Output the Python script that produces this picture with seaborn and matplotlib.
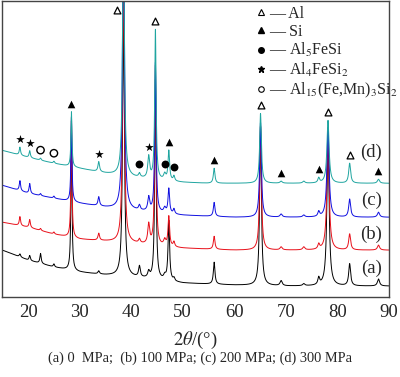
import numpy as np
import pandas as pd
import matplotlib.pyplot as plt
from matplotlib.lines import Line2D
import seaborn as sns

# baseline readings (2theta, intensity) for each pattern
base_x = [15, 20, 25, 30, 35, 40, 45, 50, 55, 60, 70, 80, 90]
base_a = [47, 37, 30, 25, 22, 20, 17, 14, 13, 12, 11, 11, 11]
base_b = [75, 70, 63, 58, 56, 54, 51, 49, 48, 47, 47, 47, 47]
base_c = [112, 104, 99, 94, 90, 87, 84, 82, 81, 80, 80, 80, 80]
base_d = [147, 140, 134, 129, 124, 120, 117, 115, 114, 114, 114, 114, 114]

# peak positions (2theta), half widths and heights above baseline
peak_pos = [18.4, 20.3, 22.4, 25.0, 28.4, 33.7, 38.5, 41.6, 43.4, 44.7,
            46.5, 47.3, 48.3, 56.1, 65.1, 69.1, 73.5, 76.4, 78.2, 82.4, 88.0]
peak_w = [0.15, 0.15, 0.15, 0.15, 0.12, 0.18, 0.2, 0.2, 0.22, 0.16,
          0.25, 0.18, 0.18, 0.18, 0.2, 0.25, 0.25, 0.2, 0.25, 0.22, 0.25]
h_a = [3, 5, 10, 3, 150, 3, 270, 11, 6, 200, 4, 60, 3, 22, 160, 5, 2, 7, 150, 22, 7]
h_b = [9, 8, 2, 2, 120, 7, 280, 4, 20, 180, 6, 30, 5, 13, 125, 3, 3, 5, 120, 16, 5]
h_c = [10, 10, 2, 2, 85, 9, 330, 5, 14, 150, 5, 25, 5, 14, 95, 3, 2, 5, 90, 18, 5]
h_d = [8, 7, 2, 2, 55, 10, 270, 4, 22, 150, 6, 30, 5, 15, 70, 2, 2, 5, 63, 20, 4]

names = ["(a)", "(b)", "(c)", "(d)"]
colors = ["black", "#e8101a", "#1010e0", "#1fa5a0"]
label_y = [29, 63, 97, 145]

# phase markers (2theta of the marked peak on pattern d)
al_x = [38.5, 44.7, 65.1, 78.2, 82.4]
si_x = [28.4, 47.3, 56.1, 69.1, 76.4, 88.0]
al5_x = [41.6, 46.5, 48.3]
al4_x = [18.4, 20.3, 33.7, 43.4]
al15_x = [22.4, 25.0]

tt = np.arange(15, 90.001, 0.02)


def pattern(bases, heights):
    y = np.interp(tt, base_x, bases)
    for p, w, h in zip(peak_pos, peak_w, heights):
        y = y + h / (1 + ((tt - p) / w) ** 2)
    return y


curves = [pattern(b, h) for b, h in zip([base_a, base_b, base_c, base_d], [h_a, h_b, h_c, h_d])]
df = pd.concat([pd.DataFrame({"tt": tt, "I": c, "s": n}) for c, n in zip(curves, names)])

sns.set_theme(style="white")
plt.rcParams["font.family"] = ["Liberation Serif", "DejaVu Serif"]
plt.rcParams["mathtext.fontset"] = "stix"

fig = plt.figure(figsize=(4, 3.77), dpi=100)
ax = fig.add_axes([0.006, 0.212, 0.966, 0.786])
sns.lineplot(data=df, x="tt", y="I", hue="s", palette=colors, linewidth=0.7,
             legend=False, ax=ax, estimator=None, sort=False)
ax.set_xlim(15, 90)
ax.set_ylim(0, 297)
ax.set_yticks([])
ax.set_xticks(range(20, 91, 10))
ax.tick_params(axis="x", direction="in", length=3, labelsize=13.5, pad=5, color="#333333")
for s in ax.spines.values():
    s.set_color("#444444")
    s.set_linewidth(1.0)
ax.set_ylabel("")
ax.set_xlabel(r"$2\theta$/(°)", fontsize=13.5)
ax.xaxis.set_label_coords(0.5, -0.11)

for n, ly in zip(names, label_y):
    ax.text(86.6, ly, n, fontsize=13.5, ha="center", va="center")

yd = curves[3]


def mark(xs, **kw):
    ys = []
    xx = []
    for x in xs:
        y = np.interp(x, tt, yd) + 8
        if y > 285:
            y = 288
            x = x - 1.3
        xx.append(x)
        ys.append(y)
    ax.scatter(xx, ys, clip_on=False, zorder=5, **kw)


mark(al_x, marker="^", s=24, facecolors="white", edgecolors="black", linewidths=0.9)
mark(si_x, marker="^", s=30, color="black", linewidths=0)
mark(al5_x, marker="o", s=32, color="black", linewidths=0)
mark(al4_x, marker="*", s=42, color="black", linewidths=0)
mark(al15_x, marker="o", s=28, facecolors="none", edgecolors="black", linewidths=1.0)

handles = [
    Line2D([], [], marker="^", ls="none", ms=4, mfc="white", mec="black", mew=0.8),
    Line2D([], [], marker="^", ls="none", ms=4.5, color="black"),
    Line2D([], [], marker="o", ls="none", ms=4, color="black"),
    Line2D([], [], marker="*", ls="none", ms=5, color="black"),
    Line2D([], [], marker="o", ls="none", ms=4, mfc="white", mec="black", mew=0.8),
]
labels = ["— Al", "— Si", "— Al$_5$FeSi", "— Al$_4$FeSi$_2$", "— Al$_{15}$(Fe,Mn)$_3$Si$_2$"]
ax.legend(handles, labels, loc="upper left", bbox_to_anchor=(0.625, 1.02), frameon=False,
          fontsize=11.5, handlelength=0.8, handletextpad=0.05, labelspacing=0.1, borderpad=0.2)

fig.text(0.5, 0.05, "(a) 0  MPa;  (b) 100 MPa; (c) 200 MPa; (d) 300 MPa",
         ha="center", va="center", fontsize=10.4)

fig.savefig("out.png", dpi=100)
